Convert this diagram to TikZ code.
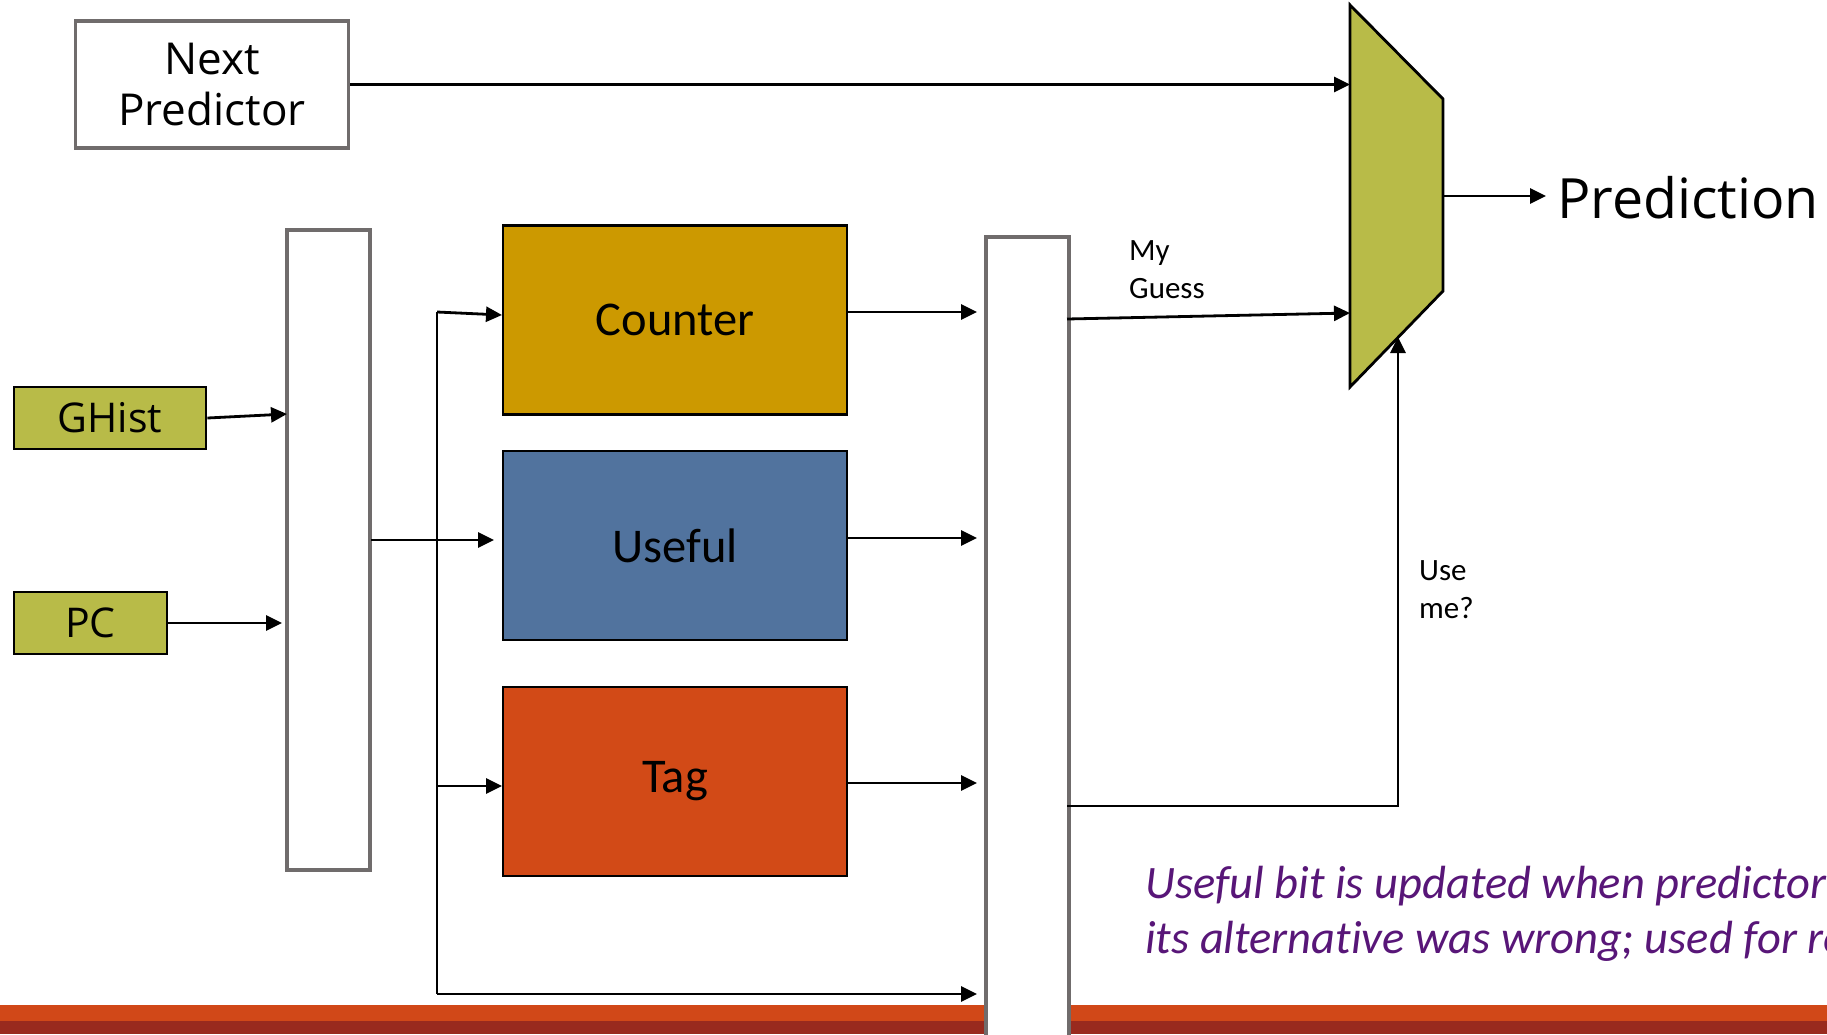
\documentclass[tikz,border=0pt]{standalone}
\usepackage{fontspec}
\setmainfont{Carlito}[Ligatures=NoCommon]
\newfontfamily\osans{Open Sans}
\usetikzlibrary{arrows.meta}
\definecolor{olivefill}{RGB}{184,187,72}
\definecolor{counterfill}{RGB}{204,153,0}
\definecolor{usefulfill}{RGB}{81,115,158}
\definecolor{tagfill}{RGB}{210,74,23}
\definecolor{reggray}{RGB}{112,108,108}
\definecolor{barorange}{RGB}{209,72,24}
\definecolor{barred}{RGB}{153,42,30}
\definecolor{notepurple}{RGB}{88,22,120}
\begin{document}
\begin{tikzpicture}[x=1pt,y=-1pt,
  blk/.style={draw=black, line width=2.8pt, inner sep=0pt, minimum width=344pt, minimum height=189pt, font=\fontsize{48.5}{58}\selectfont},
  inbox/.style={draw=black, line width=2.8pt, fill=olivefill, inner sep=0pt, minimum height=62pt, font=\osans\fontsize{41}{50}\selectfont},
  reg/.style={draw=reggray, line width=3.8pt, fill=white, inner sep=0pt, minimum width=83pt},
  arr/.style={-{Triangle[length=16pt,width=15pt]}, line width=2.8pt},
  ln/.style={line width=2.8pt},
  lbl/.style={font=\fontsize{31}{38}\selectfont, align=left, inner sep=0pt}]
\useasboundingbox (0,0) rectangle (1827,1034);
\fill[white] (0,0) rectangle (1827,1034);
% bottom bars
\fill[barorange] (0,1005) rectangle (1827,1021);
\fill[barred] (0,1021) rectangle (1827,1034);

% Next predictor
\node[draw=reggray, line width=3.8pt, inner sep=0pt, minimum width=273pt, minimum height=127pt, align=center, font=\osans\fontsize{44}{51}\selectfont] (np) at (212,84.5) {Next\\Predictor};

% inputs
\node[inbox, minimum width=192pt] (ghist) at (110,418) {GHist};
\node[inbox, minimum width=153pt] (pc) at (90.5,623) {PC};

% registers
\node[reg, minimum height=640pt] (reg1) at (328.5,550) {};
\node[reg, minimum height=810pt, anchor=north west] (reg2) at (984,235) {};

% tables
\node[blk, fill=counterfill] (counter) at (675,320) {Counter};
\node[blk, fill=usefulfill] (useful) at (675,545.5) {Useful};
\node[blk, fill=tagfill] (tag) at (675,781.5) {Tag};

% mux
\coordinate (mA) at (1350,5);
\coordinate (mB) at (1443,99);
\coordinate (mC) at (1443,291);
\coordinate (mD) at (1350,387);
\fill[olivefill, draw=black, line width=2.8pt, line join=miter] (mA) -- (mB) -- (mC) -- (mD) -- cycle;
\coordinate (mIn1) at (1350,84.5);
\coordinate (mIn2) at (1350,313);
\coordinate (mOut) at (1443,196);
\coordinate (mSel) at (1398,337);

% prediction
\node[anchor=base west, inner sep=0pt, font=\osans\fontsize{55.5}{66}\selectfont] (pred) at (1557,218) {Prediction};
\coordinate (predTip) at (1546,196);

% helper coordinates
\coordinate (gIn) at (287,414);
\coordinate (pIn) at (282,623);
\coordinate (r1Out) at (371,540);
\coordinate (uIn) at (494,540);
\coordinate (busTop) at (437,312);
\coordinate (busBot) at (439,994);
\coordinate (busTag) at (437,786);
\coordinate (cIn) at (502,315);
\coordinate (tIn) at (502,786);
\coordinate (r2In1) at (977,312);
\coordinate (r2In2) at (977,538);
\coordinate (r2In3) at (977,783);
\coordinate (r2In4) at (977,994);
\coordinate (r2Out1) at (1067,319);
\coordinate (r2Out2) at (1067,806);
\coordinate (selCorner) at (1398,806);

% connectors
\draw[arr] (np.east) -- (mIn1);
\draw[arr] (ghist.east |- 0,418) -- (gIn);
\draw[arr] (pc.east) -- (pIn);
\draw[arr] (r1Out) -- (uIn);
\draw[ln] (busTop) -- (busTop |- busBot);
\draw[arr] (busTop |- busBot) -- (r2In4);
\draw[arr] (busTop) -- (cIn);
\draw[arr] (busTag) -- (tIn);
\draw[arr] (counter.east |- r2In1) -- (r2In1);
\draw[arr] (useful.east |- r2In2) -- (r2In2);
\draw[arr] (tag.east |- r2In3) -- (r2In3);
\draw[arr] (r2Out1) -- (mIn2);
\draw[arr] (r2Out2) -- (selCorner) -- (mSel);
\draw[arr] (mOut) -- (predTip);

% labels
\node[lbl, anchor=north west] (myguess) at (1129,240) {My\\Guess};
\node[lbl, anchor=north west] (useme) at (1419,560) {Use\\me?};

% note
\begin{scope}
\clip (0,0) rectangle (1827,1034);
\node[anchor=base west, align=left, inner sep=0pt, text=notepurple, font=\itshape\fontsize{46.5}{55}\selectfont] (note) at (1145,953) {Useful bit is updated when predictor\\its alternative was wrong; used for re};
\end{scope}
\end{tikzpicture}
\end{document}
